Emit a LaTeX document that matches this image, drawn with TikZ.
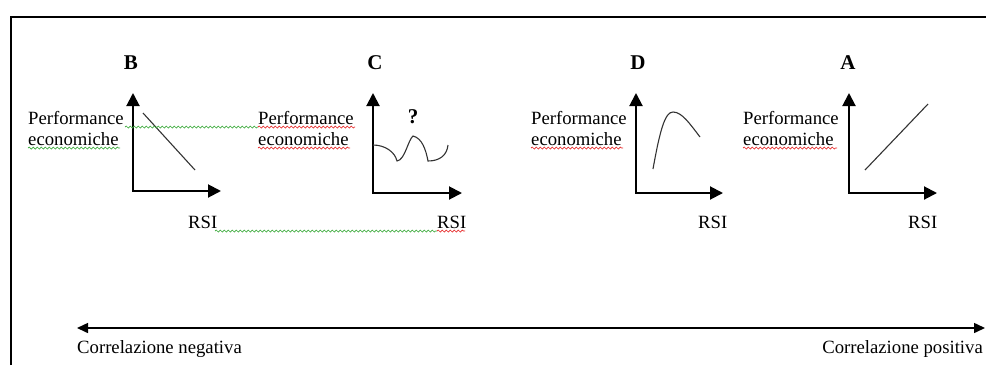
\documentclass[tikz,border=0pt]{standalone}
\usepackage{fontspec}
\setmainfont{Liberation Serif}
\usetikzlibrary{arrows.meta,decorations.pathmorphing}
\definecolor{spellgreen}{RGB}{60,170,60}
\definecolor{spellred}{RGB}{230,40,40}
\tikzset{
  txt/.style={inner sep=0pt, font=\fontsize{18.7}{21}\selectfont},
  lett/.style={inner sep=0pt, font=\fontsize{21}{23}\selectfont\bfseries},
  axis/.style={line width=2pt, {Triangle[length=13pt,width=13pt]}-{Triangle[length=13pt,width=13pt]}},
  graphline/.style={line width=1.1pt, draw=black!80},
  squig/.style={line width=0.7pt, decorate, decoration={snake, amplitude=1pt, segment length=4pt}},
  sg/.style={squig, draw=spellgreen},
  sr/.style={squig, draw=spellred},
}
\begin{document}
\begin{tikzpicture}[x=1pt,y=-1pt]
\useasboundingbox (0,0) rectangle (986,365);
% frame
\draw[line width=2pt] (11,365) -- (11,17) -- (986,17);

% ---------- B ----------
\node[lett, anchor=base] (labB) at (131,69) {B};
\coordinate (Btop) at (133,93);
\coordinate (Bright) at (221,191);
\draw[axis] (Btop) |- (Bright);
\coordinate (B1) at (143,113);
\coordinate (B2) at (195,170);
\draw[graphline] (B1) -- (B2);
\node[txt, anchor=base west] (pB1) at (28,124) {Performance};
\node[txt, anchor=base west] (pB2) at (28,145) {economiche};
\node[txt, anchor=base west] (rB) at (188,228) {RSI};

% ---------- C ----------
\node[lett, anchor=base] (labC) at (375,69) {C};
\coordinate (Ctop) at (373,93);
\coordinate (Cright) at (462,193);
\draw[axis] (Ctop) |- (Cright);
\node[lett, anchor=base] (qC) at (413,123) {?};
\draw[graphline] (373,145) .. controls (385,145) and (395,152) .. (397,161)
  .. controls (405,160) and (408,140) .. (413,136)
  .. controls (422,138) and (426,150) .. (428,161)
  .. controls (440,161) and (447,155) .. (448,145);
\node[txt, anchor=base west] (pC1) at (258,124) {Performance};
\node[txt, anchor=base west] (pC2) at (258,145) {economiche};
\node[txt, anchor=base west] (rC) at (437,228) {RSI};

% ---------- D ----------
\node[lett, anchor=base] (labD) at (638,69) {D};
\coordinate (Dtop) at (636,93);
\coordinate (Dright) at (723,193);
\draw[axis] (Dtop) |- (Dright);
\draw[graphline] (653,169) .. controls (660,130) and (665,112) .. (673,112)
  .. controls (682,112) and (690,124) .. (700,137);
\node[txt, anchor=base west] (pD1) at (531,124) {Performance};
\node[txt, anchor=base west] (pD2) at (531,145) {economiche};
\node[txt, anchor=base west] (rD) at (698,228) {RSI};

% ---------- A ----------
\node[lett, anchor=base] (labA) at (848,69) {A};
\coordinate (Atop) at (849,93);
\coordinate (Aright) at (937,193);
\draw[axis] (Atop) |- (Aright);
\coordinate (A1) at (865,170);
\coordinate (A2) at (928,104);
\draw[graphline] (A1) -- (A2);
\node[txt, anchor=base west] (pA1) at (743,124) {Performance};
\node[txt, anchor=base west] (pA2) at (743,145) {economiche};
\node[txt, anchor=base west] (rA) at (908,228) {RSI};

% ---------- spell-check squiggles ----------
\draw[sg] (28,148) -- (120,148);
\draw[sg] (125,127) -- (258,127);
\draw[sr] (258,127) -- (355,127);
\draw[sr] (258,148) -- (350,148);
\draw[sg] (215,231) -- (437,231);
\draw[sr] (437,231) -- (465,231);
\draw[sr] (531,148) -- (623,148);
\draw[sr] (743,148) -- (837,148);

% ---------- bottom axis ----------
\coordinate (negEnd) at (77,328);
\coordinate (posEnd) at (985,328);
\draw[line width=1.5pt, {Triangle[length=11pt,width=10pt]}-{Triangle[length=11pt,width=10pt]}] (negEnd) -- (posEnd);
\node[txt, anchor=base west] (neg) at (77,353) {Correlazione negativa};
\node[txt, anchor=base east] (pos) at (983,353) {Correlazione positiva};
\end{tikzpicture}
\end{document}
